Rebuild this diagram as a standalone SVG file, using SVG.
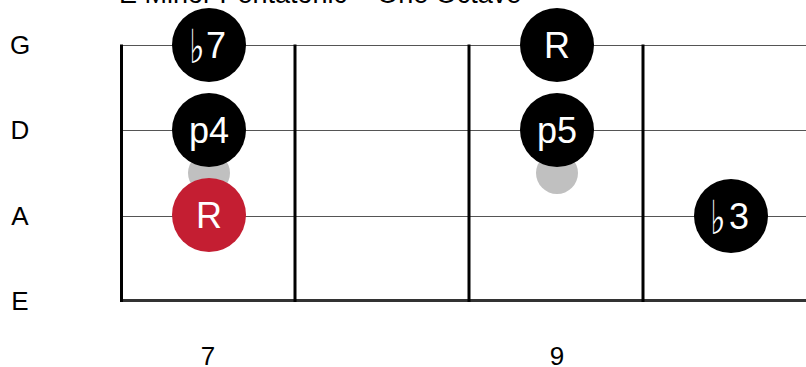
<svg xmlns="http://www.w3.org/2000/svg" width="806" height="367" viewBox="0 0 806 367">
<style>
text{font-family:"Liberation Sans",Arial,"DejaVu Sans",sans-serif}
.lbl{font-size:26px;fill:#000;text-anchor:middle}
.note{font-size:36px;fill:#fff;text-anchor:middle}
.flat{font-family:"DejaVu Sans",sans-serif;font-size:36px;fill:#fff;text-anchor:middle}
.str{stroke:#555;stroke-width:1.2}
.fret{stroke:#000;stroke-width:3}
.dot{fill:#000}
.root{fill:#c41e32}
.ghost{fill:#c0c0c0}
</style>
<rect width="806" height="367" fill="#fff"/>
<text x="119" y="3" style="font-size:27px;fill:#000">E Minor Pentatonic – One Octave</text>
<g id="connectors">
<line class="str" x1="121" y1="45.5" x2="806" y2="45.5"/>
<line class="str" x1="121" y1="130.5" x2="806" y2="130.5"/>
<line class="str" x1="121" y1="216.5" x2="806" y2="216.5"/>
<line x1="121" y1="300.5" x2="806" y2="300.5" stroke="#333" stroke-width="3"/>
<line class="fret" x1="121.5" y1="44.5" x2="121.5" y2="302"/>
<line class="fret" x1="295" y1="44.5" x2="295" y2="302"/>
<line class="fret" x1="469" y1="44.5" x2="469" y2="302"/>
<line class="fret" x1="643" y1="44.5" x2="643" y2="302"/>
</g>
<g id="string-labels">
<text class="lbl" x="20" y="54">G</text>
<text class="lbl" x="20" y="139">D</text>
<text class="lbl" x="20" y="225">A</text>
<text class="lbl" x="20" y="310">E</text>
</g>
<g id="fret-labels">
<text class="lbl" x="208" y="365">7</text>
<text class="lbl" x="557" y="365">9</text>
</g>
<g id="ghost-7"><circle class="ghost" cx="209" cy="173" r="21"/></g>
<g id="ghost-9"><circle class="ghost" cx="557" cy="173" r="21"/></g>
<g id="n-b7"><circle class="dot" cx="209" cy="45" r="37"/><text class="flat" transform="translate(197,63) scale(0.9,1.3)">♭</text><text class="note" x="216" y="58">7</text></g>
<g id="n-p4"><circle class="dot" cx="209" cy="130" r="37"/><text class="note" x="209" y="143">p4</text></g>
<g id="n-R1"><circle class="root" cx="209" cy="215" r="37"/><text class="note" x="209" y="228">R</text></g>
<g id="n-R2"><circle class="dot" cx="557" cy="45" r="37"/><text class="note" x="557" y="58">R</text></g>
<g id="n-p5"><circle class="dot" cx="557" cy="130" r="37"/><text class="note" x="557" y="143">p5</text></g>
<g id="n-b3"><circle class="dot" cx="731" cy="216" r="37"/><text class="flat" transform="translate(718,234) scale(0.9,1.3)">♭</text><text class="note" x="739" y="229">3</text></g>
</svg>
